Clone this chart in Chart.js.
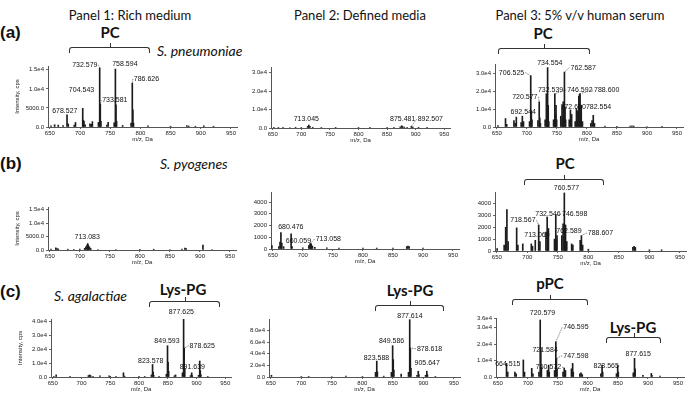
<!DOCTYPE html>
<html><head><meta charset="utf-8">
<script src="https://cdn.jsdelivr.net/npm/chart.js@4.4.0/dist/chart.umd.min.js"></script>
<style>
body{margin:0;width:688px;height:394px;background:#fff;position:relative;overflow:hidden}
canvas{position:absolute}
.t{position:absolute;white-space:nowrap;color:#111;font-family:Lato,"Open Sans",sans-serif}
.c{transform:translate(-50%,-50%)}
.v{transform:translateY(-50%)}
.ttl{font-size:13px}
.tag{font:bold 17px Arial,"Liberation Sans",sans-serif}
.sp{font-style:italic;font-size:14px}
.grp{font-weight:bold;font-size:15px}
.br{position:absolute;box-sizing:border-box;height:6px;border:1.5px solid #333;border-bottom:none;border-radius:3px 3px 0 0}
.br::after{content:'';position:absolute;left:50%;top:-5px;height:4px;border-left:1.5px solid #333}
</style></head>
<body>
<div class="t c ttl" style="left:130px;top:15px">Panel 1: Rich medium</div>
<div class="t c ttl" style="left:360px;top:15px">Panel 2: Defined media</div>
<div class="t c ttl" style="left:580px;top:15px">Panel 3: 5% v/v human serum</div>

<div class="t v tag" style="left:0;top:33px">(a)</div>
<div class="t v tag" style="left:0;top:164px">(b)</div>
<div class="t v tag" style="left:0;top:292px">(c)</div>

<div class="t v sp" style="left:157px;top:50px">S. pneumoniae</div>
<div class="t v sp" style="left:160px;top:163px">S. pyogenes</div>
<div class="t v sp" style="left:54px;top:295px">S. agalactiae</div>

<div class="t c grp" style="left:110px;top:32px">PC</div>
<div class="br" style="left:69px;top:47px;width:81px"></div>
<div class="t c grp" style="left:543px;top:33px">PC</div>
<div class="br" style="left:498px;top:48px;width:92px"></div>
<div class="t c grp" style="left:565px;top:163px">PC</div>
<div class="br" style="left:524px;top:179px;width:80px"></div>
<div class="t c grp" style="left:183px;top:289px">Lys-PG</div>
<div class="br" style="left:149px;top:301px;width:71px"></div>
<div class="t c grp" style="left:410px;top:290px">Lys-PG</div>
<div class="br" style="left:375px;top:305px;width:69px"></div>
<div class="t c grp" style="left:550px;top:283px">pPC</div>
<div class="br" style="left:512px;top:299px;width:76px"></div>
<div class="t c grp" style="left:633px;top:327px">Lys-PG</div>
<div class="br" style="left:606px;top:337px;width:55px"></div>

<script>
// ── Axis values ──────────────────────────────────────────────────────────────
const X_TICKS=[650,700,750,800,850,900,950];
const X_MIN=647, X_MAX=960;
const Y_TICKS_15K=[0,5000,10000,15000],        Y_LBL_15K=['0.0','5000.0','1.0e4','1.5e4'];
const Y_TICKS_30K=[0,10000,20000,30000],       Y_LBL_30K=['0.0','1.0e4','2.0e4','3.0e4'];
const Y_TICKS_4K=[0,1000,2000,3000,4000],      Y_LBL_4K=['0','1000','2000','3000','4000'];
const Y_TICKS_40K=[0,10000,20000,30000,40000], Y_LBL_40K=['0.0','1.0e4','2.0e4','3.0e4','4.0e4'];
const Y_TICKS_80K=[0,20000,40000,60000,80000], Y_LBL_80K=['0.0','2.0e4','4.0e4','6.0e4','8.0e4'];
const Y_TICKS_36K=[0,10000,20000,30000,36000], Y_LBL_36K=['0.0','1.0e4','2.0e4','3.0e4','3.6e4'];

// ── Peaks [m/z, intensity] and labels [text, m/z, intensity, leader-peak] ────
const p1aPeaks=[[652,300],[658,600],[664,500],[672,400],[678.5,3200],[680.5,800],[690.5,500],[692.5,1200],[704.5,4900],[705.5,1800],[706.5,1500],[708.5,600],[716.5,800],[718.5,700],[720.5,1400],[730.5,1200],[732.6,15500],[733.6,6000],[734.6,1500],[744.5,500],[746.6,1200],[756.6,1100],[758.6,15200],[759.6,5800],[760.6,1500],[770.6,400],[784.6,1000],[786.6,11500],[787.6,4500],[788.6,1000],[812.5,300],[850,200],[877,350],[880,250],[891,200],[905,300],[921,200]];
const p1aLabels=[['732.579',708,16300,732.6],['758.594',774.3,16500,null],['786.626',810,12600,786.6],['704.543',702.5,9700,null],['733.581',757.7,7100,733.6],['678.527',674.9,4200,null]];

const p2aPeaks=[[652,400],[660,300],[668,300],[680,250],[690,400],[700,300],[711,800],[713,1600],[715,900],[720,400],[735,300],[760,200],[800,300],[820,200],[850,300],[862,300],[873,600],[875.5,1200],[877,800],[880,500],[885,400],[892.5,900],[895,500],[905,400],[920,200]];
const p2aLabels=[['713.045',708.8,4750,null],['875.481',877.3,4750,null],['892.507',925.6,4750,892.5]];

const p3aPeaks=[[652,800],[664.5,4700],[666.5,1500],[678.5,3500],[680.5,2000],[682.5,5500],[690.5,2500],[692.5,6000],[694.5,3000],[704.5,3000],[706.5,28500],[707.5,9000],[708.5,4000],[718.5,3500],[720.6,14000],[721.6,5000],[722.6,2000],[730.5,4000],[732.5,18500],[733.5,7000],[734.6,33000],[735.6,12000],[736.6,3000],[744.5,4000],[746.6,18500],[747.6,7000],[748.6,12000],[749.6,4000],[756.5,6000],[758.6,12000],[759.6,5000],[760.6,14000],[762.6,30500],[763.6,11000],[764.6,4000],[770.6,4000],[772.6,9500],[773.6,3500],[774.6,7000],[780.5,3000],[782.6,10000],[783.6,4000],[784.6,9000],[786.6,17000],[787.6,18000],[788.6,18500],[789.6,7000],[790.6,12000],[792.6,3000],[806.5,2000],[808.6,3500],[810.6,6500],[812.6,2000],[830,500],[850,400],[872,500],[875,700],[878,500],[900,300],[925,200]];
const p3aLabels=[['706.525',674.5,30200,706.5],['734.554',738.3,35700,null],['762.587',793.9,33000,762.6],['732.539',739.5,20500,null],['746.592',788.3,20500,746.6],['788.600',833,20500,788.6],['720.577',696.7,16800,720.6],['692.544',693.9,8500,null],['772.600',777.2,10900,null],['782.554',819.4,10900,null]];

const p1bPeaks=[[652,300],[660,800],[662,500],[664,400],[680,300],[690,200],[700,300],[708,600],[710,1200],[712,1800],[713.1,2400],[714,1800],[716,1200],[718,600],[730,200],[760,200],[800,150],[823,300],[850,200],[870,300],[875,700],[877,500],[905,1800],[920,200]];
const p1bLabels=[['713.083',712.2,4760,null]];

const p2bPeaks=[[648.5,300],[660,200],[662,600],[663.5,1400],[665,500],[668,200],[680.5,1300],[682,200],[700,100],[710,300],[712,450],[713,500],[714,400],[716,250],[720,150],[740,100],[760,80],[800,80],[823,80],[850,80],[873,200],[875,250],[877,200],[900,80]];
const p2bLabels=[['680.476',680,1850,null],['660.059',692.6,710,null],['713.058',742.5,860,713]];

const p3bPeaks=[[650.5,200],[662,500],[664.5,2000],[666.5,3500],[668.5,800],[682.5,1950],[684.5,500],[692.5,600],[706.5,600],[708.5,400],[713,900],[718.6,2200],[720.6,800],[730.5,1600],[732.5,2870],[733.5,1000],[734.6,1900],[744.5,1000],[746.6,3070],[747.6,900],[748.6,1300],[756.5,1300],[758.6,2300],[760.6,4900],[761.6,1800],[762.6,2200],[764.6,800],[772.6,600],[774.6,500],[786.6,900],[788.6,1300],[790.6,500],[800,150],[873,300],[875,400],[877,300],[900,100],[920,100]];
const p3bLabels=[['760.577',764,5350,null],['718.567',692.7,2590,718.6],['732.546',733.8,3100,null],['746.598',777.6,3100,746.6],['713.060',715.7,1320,null],['762.589',768.2,1660,null],['788.607',819.8,1520,788.6]];

const p1cPeaks=[[652,500],[656,1500],[680,300],[712,1000],[714,1500],[716,1000],[720,500],[732,800],[748,800],[750,500],[760,300],[773,3000],[775,600],[800,300],[810,300],[821.6,1500],[823.6,9000],[824.6,3500],[825.6,1200],[835,500],[847.6,2000],[849.6,22500],[850.6,10500],[851.6,4000],[861.5,800],[863.6,1500],[875.6,3000],[877.6,41500],[878.6,20800],[879.6,6000],[889.6,1000],[891.6,3000],[892.6,1000],[903.6,1200],[905.6,11500],[906.6,4500],[907.6,1500],[919.6,300]];
const p1cLabels=[['877.625',873.6,46800,null],['849.593',848.7,25600,null],['878.625',910,22500,878.6],['823.578',820.3,11700,null],['891.639',892.7,7200,null]];

const p2cPeaks=[[651,3000],[700,800],[712,1000],[750,800],[773,1500],[800,800],[821.6,8000],[823.6,27400],[824.6,9000],[835,1500],[847.6,8000],[849.6,54000],[850.6,30000],[851.6,12000],[863.6,5000],[875.6,8000],[877.6,98800],[878.6,50000],[879.6,15000],[889.6,3000],[891.6,10000],[892.6,4000],[903.6,3000],[905.6,10000],[906.6,4000],[919.6,1000]];
const p2cLabels=[['877.614',877.9,105600,null],['849.586',847.8,62800,null],['878.618',910.1,48600,878.6],['823.588',823.2,33200,null],['905.647',906.2,23500,null]];

const p3cPeaks=[[664.5,8300],[666.5,3000],[678.5,3000],[680.5,2000],[692.5,10400],[694.5,3000],[706.5,5300],[708.5,2000],[718.5,3000],[720.6,34800],[721.6,17500],[722.6,6000],[732.5,4000],[734.6,7300],[735.6,3000],[744.6,4000],[746.6,21500],[747.6,11400],[748.6,5000],[758.6,3000],[760.6,5500],[761.6,3000],[762.6,4000],[772.6,5000],[774.6,8300],[775.6,3000],[786.6,2000],[788.6,2500],[790.6,1500],[821.6,2000],[823.6,7300],[824.6,3000],[847.6,2000],[849.6,7000],[850.6,3000],[875.6,2500],[877.6,11400],[878.6,5000],[891.6,1000],[905.6,2200],[906.6,1000],[920,500]];
const p3cLabels=[['720.579',724.4,39000,null],['746.595',780,30300,746.6],['721.584',728.8,16200,null],['747.598',780,13000,747.6],['664.515',666.7,8100,null],['760.572',734.3,6100,760.6],['823.565',830.5,6900,null],['877.615',883.8,14200,null]];

// ── Layout ───────────────────────────────────────────────────────────────────
const YW=34, PT=14, PR=6, XH=16;
const FONT='Arial, "Liberation Sans", sans-serif';
Chart.defaults.font.family=FONT;

function labelPlugin(items,peaks){
  return {id:'peakLabels',afterDatasetsDraw(chart){
    const ctx=chart.ctx, x=chart.scales.x, y=chart.scales.y;
    ctx.save(); ctx.font='7px '+FONT; ctx.fillStyle='#111'; ctx.textAlign='center'; ctx.textBaseline='middle';
    items.forEach(([t,mz,at,lead])=>{
      const px=x.getPixelForValue(mz), py=y.getPixelForValue(at);
      ctx.fillText(t,px,py);
      if(lead==null) return;
      const pk=peaks.find(p=>p[0]===lead); if(!pk) return;
      const tx=x.getPixelForValue(pk[0]), ty=y.getPixelForValue(pk[1]);
      const hw=ctx.measureText(t).width/2, sx=tx>px?px+hw+1:px-hw-1;
      ctx.beginPath(); ctx.setLineDash([1.5,1]); ctx.strokeStyle='#555'; ctx.lineWidth=0.7;
      ctx.moveTo(sx,py); ctx.lineTo(tx,ty); ctx.stroke();
    });
    ctx.restore();
  }};
}

function panel(o){
  const k=(o.x950-o.x650)/300;
  const l=o.x650-(650-X_MIN)*k, r=o.x950+(X_MAX-950)*k;
  const cl=Math.round(l-YW), ct=Math.round(o.yTop-PT);
  const w=Math.round(r-l+YW+PR), h=Math.round(o.y0-o.yTop+PT+XH);
  const cv=document.createElement('canvas');
  cv.width=w; cv.height=h; cv.style.width=w+'px'; cv.style.height=h+'px';
  cv.style.left=cl+'px'; cv.style.top=ct+'px';
  document.body.appendChild(cv);
  new Chart(cv.getContext('2d'),{
    type:'bar',
    data:{datasets:[{data:o.peaks.map(p=>({x:p[0],y:p[1]})),backgroundColor:'#1c1c1c',barThickness:1,borderWidth:0}]},
    options:{
      responsive:false,animation:false,devicePixelRatio:1,
      layout:{padding:{top:PT,right:PR,left:0,bottom:0}},
      plugins:{legend:{display:false},tooltip:{enabled:false}},
      scales:{
        x:{type:'linear',min:X_MIN,max:X_MAX,offset:false,
          afterBuildTicks:s=>{s.ticks=X_TICKS.map(v=>({value:v}));},
          afterFit:s=>{s.height=XH;},
          grid:{drawOnChartArea:false,offset:false,tickLength:2,color:'#666'},
          border:{color:'#555',width:1},
          ticks:{font:{size:6},color:'#222',padding:1,maxRotation:0,autoSkip:false},
          title:{display:true,text:'m/z, Da',font:{size:6},color:'#222',padding:0}},
        y:{min:0,max:o.ymax,
          afterBuildTicks:s=>{s.ticks=o.yTicks.map(v=>({value:v}));},
          afterFit:s=>{s.width=YW;},
          grid:{drawOnChartArea:false,tickLength:2,color:'#666'},
          border:{color:'#555',width:1},
          ticks:{font:{size:6},color:'#222',padding:2,autoSkip:false,callback:(v,i)=>o.yLabels[i]},
          title:{display:!!o.yTitle,text:'Intensity, cps',font:{size:6},color:'#222',padding:0}}
      }
    },
    plugins:[labelPlugin(o.labels,o.peaks)]
  });
}

panel({peaks:p1aPeaks,labels:p1aLabels,yTicks:Y_TICKS_15K,yLabels:Y_LBL_15K,ymax:16000,x650:50,x950:231,y0:127,yTop:66,yTitle:true});
panel({peaks:p2aPeaks,labels:p2aLabels,yTicks:Y_TICKS_30K,yLabels:Y_LBL_30K,ymax:33000,x650:273,x950:445,y0:127,yTop:66.5});
panel({peaks:p3aPeaks,labels:p3aLabels,yTicks:Y_TICKS_30K,yLabels:Y_LBL_30K,ymax:35000,x650:497,x950:677,y0:127,yTop:64});
panel({peaks:p1bPeaks,labels:p1bLabels,yTicks:Y_TICKS_15K,yLabels:Y_LBL_15K,ymax:16000,x650:50,x950:230,y0:250,yTop:207.3,yTitle:true});
panel({peaks:p2bPeaks,labels:p2bLabels,yTicks:Y_TICKS_4K,yLabels:Y_LBL_4K,ymax:4860,x650:272.7,x950:453,y0:248.3,yTop:191.7});
panel({peaks:p3bPeaks,labels:p3bLabels,yTicks:Y_TICKS_4K,yLabels:Y_LBL_4K,ymax:4980,x650:497.3,x950:680,y0:250.7,yTop:191.7});
panel({peaks:p1cPeaks,labels:p1cLabels,yTicks:Y_TICKS_40K,yLabels:Y_LBL_40K,ymax:41700,x650:52.7,x950:225.3,y0:377.3,yTop:319.3,yTitle:true});
panel({peaks:p2cPeaks,labels:p2cLabels,yTicks:Y_TICKS_80K,yLabels:Y_LBL_80K,ymax:100000,x650:271,x950:454,y0:377.7,yTop:319.3});
panel({peaks:p3cPeaks,labels:p3cLabels,yTicks:Y_TICKS_36K,yLabels:Y_LBL_36K,ymax:36000,x650:497.7,x950:677.7,y0:377.3,yTop:318.3});
</script>
</body></html>
